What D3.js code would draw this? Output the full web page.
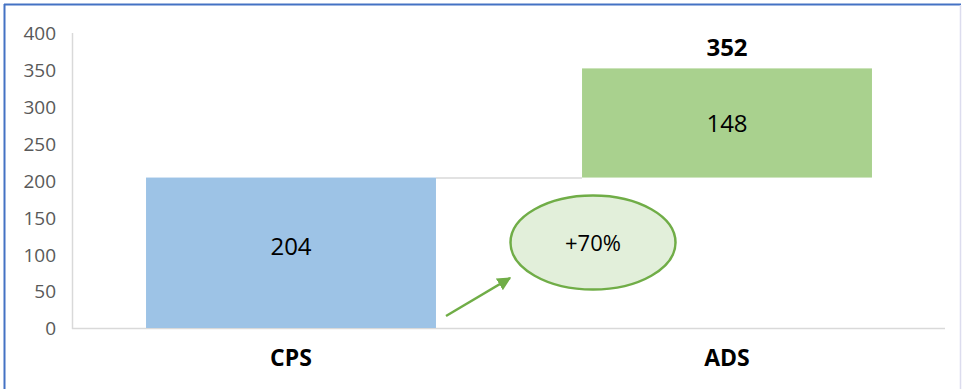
<!DOCTYPE html>
<html>
<head>
<meta charset="utf-8">
<script src="https://cdn.jsdelivr.net/npm/d3@7"></script>
<style>
  html, body { margin: 0; padding: 0; background: #ffffff; }
  svg { display: block; }
  text { font-family: "Open Sans", "Liberation Sans", sans-serif; }
</style>
</head>
<body>
<svg id="chart" width="962" height="389"></svg>
<script>
// Waterfall: CPS base plus the ADS increment
const categories = ["CPS", "ADS"];
const baseValues = [0, 204];
const stepValues = [204, 148];
const totalLabel = 352;
const growthLabel = "+70%";
const yTicks = [0, 50, 100, 150, 200, 250, 300, 350, 400];
const barColors = ["#9dc3e6", "#a9d18e"];

const svg = d3.select("#chart");
const W = 962, H = 389;

// frame
svg.append("line").attr("x1", 4.5).attr("y1", 4).attr("x2", 4.5).attr("y2", H)
  .attr("stroke", "#4472c4").attr("stroke-width", 2);
svg.append("line").attr("x1", 4).attr("y1", 4.5).attr("x2", 961).attr("y2", 4.5)
  .attr("stroke", "#4472c4").attr("stroke-width", 2);
svg.append("line").attr("x1", 960.5).attr("y1", 5).attr("x2", 960.5).attr("y2", H)
  .attr("stroke", "#dcdcee").attr("stroke-width", 1.5);

const plotLeft = 73, plotRight = 945, plotTop = 33, plotBottom = 328;

const x = d3.scaleBand().domain(categories).range([plotLeft, plotRight])
  .paddingInner(0.335).paddingOuter(0.1675);
const y = d3.scaleLinear().domain([0, 400]).range([plotBottom, plotTop]);

// y axis labels
const yAxis = d3.axisLeft(y).tickValues(yTicks).tickSize(0).tickPadding(17);
const gy = svg.append("g").attr("transform", `translate(${plotLeft},0)`).call(yAxis);
gy.select(".domain").remove();
gy.selectAll("text").attr("fill", "#595959").style("font-size", "19px")
  .style("font-family", "'Open Sans', sans-serif").attr("dy", "0.36em");

// axis lines
svg.append("line").attr("x1", plotLeft - 0.5).attr("x2", plotLeft - 0.5)
  .attr("y1", y(400)).attr("y2", plotBottom + 1)
  .attr("stroke", "#d9d9d9").attr("stroke-width", 1.5);
svg.append("line").attr("x1", plotLeft - 1).attr("x2", plotRight)
  .attr("y1", plotBottom + 0.5).attr("y2", plotBottom + 0.5)
  .attr("stroke", "#d9d9d9").attr("stroke-width", 1.5);

// bars
const bars = categories.map((c, i) => ({ c, base: baseValues[i], step: stepValues[i], color: barColors[i] }));
svg.selectAll("rect.bar").data(bars).enter().append("rect")
  .attr("class", "bar")
  .attr("x", d => x(d.c))
  .attr("width", x.bandwidth())
  .attr("y", d => y(d.base + d.step))
  .attr("height", d => y(d.base) - y(d.base + d.step))
  .attr("fill", d => d.color);

// connector between the CPS top and the ADS base
svg.append("line")
  .attr("x1", x(categories[0]) + x.bandwidth()).attr("x2", x(categories[1]))
  .attr("y1", y(baseValues[1]) + 0.5).attr("y2", y(baseValues[1]) + 0.5)
  .attr("stroke", "#d9d9d9").attr("stroke-width", 1.5);

// value labels inside the bars (the base bar's label sits slightly above its middle)
svg.selectAll("text.val").data(bars).enter().append("text")
  .attr("class", "val")
  .attr("x", d => x(d.c) + x.bandwidth() / 2)
  .attr("y", (d, i) => (y(d.base) + y(d.base + d.step)) / 2 - (i === 0 ? 6 : 0))
  .attr("dy", "0.36em")
  .attr("text-anchor", "middle")
  .attr("fill", "#000")
  .style("font-size", "24px")
  .text(d => d.step);

// total above ADS
svg.append("text")
  .attr("x", x(categories[1]) + x.bandwidth() / 2)
  .attr("y", y(totalLabel) - 21)
  .attr("dy", "0.36em")
  .attr("text-anchor", "middle")
  .style("font-size", "24px").style("font-weight", "bold")
  .text(totalLabel);

// category labels
svg.selectAll("text.cat").data(categories).enter().append("text")
  .attr("class", "cat")
  .attr("x", d => x(d) + x.bandwidth() / 2)
  .attr("y", 358)
  .attr("dy", "0.36em")
  .attr("text-anchor", "middle")
  .style("font-size", "23px").style("font-weight", "bold")
  .text(d => d);

// growth callout
svg.append("defs").append("marker")
  .attr("id", "arrowHead").attr("viewBox", "0 0 10 10")
  .attr("refX", 9).attr("refY", 5)
  .attr("markerWidth", 5.5).attr("markerHeight", 5.5)
  .attr("orient", "auto")
  .append("path").attr("d", "M0,0 L10,5 L0,10 Z").attr("fill", "#70ad47");

svg.append("line")
  .attr("x1", 446).attr("y1", 316).attr("x2", 510).attr("y2", 278)
  .attr("stroke", "#70ad47").attr("stroke-width", 2.5)
  .attr("marker-end", "url(#arrowHead)");

svg.append("ellipse")
  .attr("cx", 593).attr("cy", 242.5).attr("rx", 82.5).attr("ry", 47)
  .attr("fill", "#e2efda").attr("stroke", "#70ad47").attr("stroke-width", 2.5);

svg.append("text")
  .attr("x", 593).attr("y", 243)
  .attr("dy", "0.36em")
  .attr("text-anchor", "middle")
  .style("font-size", "22px")
  .text(growthLabel);
</script>
</body>
</html>
